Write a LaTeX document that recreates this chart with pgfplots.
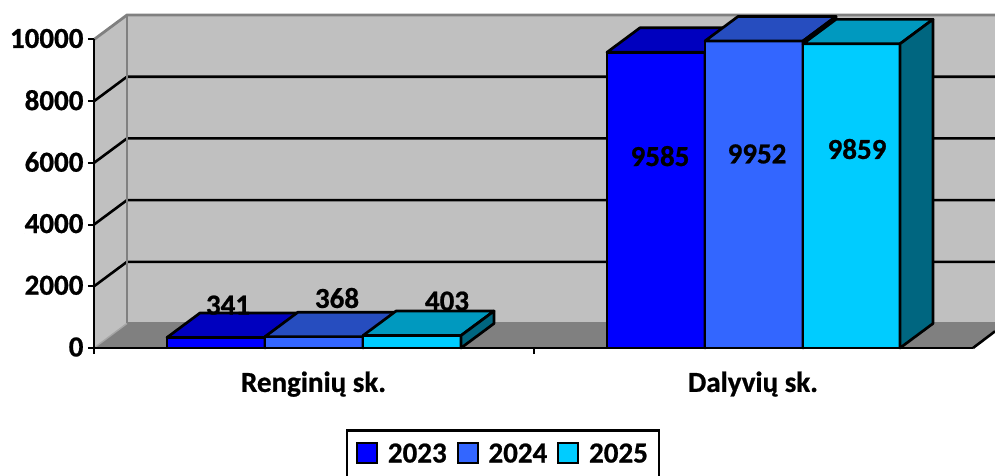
\documentclass[border=0pt]{standalone}
\usepackage{fontspec}
\setmainfont{Carlito}[BoldFeatures={FakeBold=0.8}]
\usepackage{pgfplots}
\pgfplotsset{compat=1.18}
\definecolor{wallc}{HTML}{C0C0C0}
\definecolor{floorc}{HTML}{808080}
\definecolor{aF}{HTML}{0000FF}
\definecolor{aT}{HTML}{0000BF}
\definecolor{aS}{HTML}{000099}
\definecolor{bF}{HTML}{3366FF}
\definecolor{bT}{HTML}{264DBF}
\definecolor{bS}{HTML}{1F3D99}
\definecolor{cF}{HTML}{00CCFF}
\definecolor{cT}{HTML}{0099BF}
\definecolor{cS}{HTML}{006680}
\tikzset{bigfont/.style={font=\fontsize{29}{30}\selectfont\bfseries}}
\pgfplotsset{
  face/.style={fill=#1,draw=black,line width=2.7pt,line join=round,forget plot},
}
\begin{document}
\begin{tikzpicture}
% one x unit is one pixel of the reference, depth is 33 x units and 794 y units
\path[use as bounding box] (-94pt,-128pt) rectangle (901pt,348pt);
\begin{axis}[
  scale only axis,
  width=879pt,height=308.5pt,
  xmin=94,xmax=973,ymin=0,ymax=10000,
  clip=false,
  axis on top,
  axis x line*=bottom,axis y line*=left,
  axis line style={line width=2.7pt,black},
  tick style={line width=2pt,black},
  major tick length=6pt,
  xtick={94,533.5},xticklabels={},
  ytick={0,2000,4000,6000,8000,10000},
  tick align=outside,
  scaled ticks=false,
  /pgf/number format/1000 sep={},
  /pgf/number format/assume math mode=true,
  tick label style={bigfont},
  yticklabel style={xshift=-1pt,yshift=1pt},
  extra x ticks={313.5,753},
  extra x tick labels={Renginių sk.,Dalyvių sk.},
  extra x tick style={major tick length=0pt,tick label style={yshift=-20pt}},
  legend columns=3,
  legend style={at={(rel axis cs:0.4653,-0.263)},anchor=north,draw=black,line width=2.7pt,
    bigfont,inner xsep=9pt,inner ysep=11pt,
    /tikz/every even column/.style={column sep=8pt},
    /tikz/every odd column/.style={column sep=8pt}},
  legend image code/.code={\draw[#1,line width=1.8pt] (0pt,-9pt) rectangle (20pt,11pt);},
]
% walls and floor
\addplot[fill=wallc,draw=none,forget plot] coordinates {(127,794) (995,794) (995,10794) (127,10794)} --cycle;
\addplot[fill=wallc,draw=none,forget plot] coordinates {(94,0) (127,794) (127,10794) (94,10000)} --cycle;
\addplot[fill=floorc,draw=none,forget plot] coordinates {(94,0) (973,0) (995,540) (995,794) (127,794)} --cycle;
% gridlines
\addplot[black,line width=2.6pt,forget plot] coordinates {(94,2000) (127,2794) (995,2794)};
\addplot[black,line width=2.6pt,forget plot] coordinates {(94,4000) (127,4794) (995,4794)};
\addplot[black,line width=2.6pt,forget plot] coordinates {(94,6000) (127,6794) (995,6794)};
\addplot[black,line width=2.6pt,forget plot] coordinates {(94,8000) (127,8794) (995,8794)};
% wall edges
\addplot[floorc,line width=2.8pt,forget plot] coordinates {(94,10000) (127,10794) (995,10794)};
\addplot[floorc,line width=2.8pt,forget plot] coordinates {(127,10794) (127,794) (995,794)};
\addplot[floorc!70!white,line width=1.4pt,forget plot] coordinates {(94,0) (127,794)};
\addplot[black,line width=2.6pt,forget plot] coordinates {(973,0) (995,540)};
% low labels sit behind the bars
\addplot[draw=none,forget plot,point meta=explicit symbolic,nodes near coords,
  nodes near coords align={anchor=center},
  every node near coord/.append style={bigfont,inner sep=0pt,black}]
  coordinates {(228,1390)[341] (337,1620)[368] (447,1520)[403]};
% Renginiu sk. 2023
\addplot[face=aF] coordinates {(167,0) (265,0) (265,341) (167,341)} --cycle;
\addplot[face=aT] coordinates {(167,341) (265,341) (298,1135) (200,1135)} --cycle;
\addplot[face=aS] coordinates {(265,0) (298,794) (298,1135) (265,341)} --cycle;
% 2024
\addplot[face=bF] coordinates {(265,0) (363,0) (363,368) (265,368)} --cycle;
\addplot[face=bT] coordinates {(265,368) (363,368) (396,1162) (298,1162)} --cycle;
\addplot[face=bS] coordinates {(363,0) (396,794) (396,1162) (363,368)} --cycle;
% 2025
\addplot[face=cF] coordinates {(363,0) (461,0) (461,403) (363,403)} --cycle;
\addplot[face=cT] coordinates {(363,403) (461,403) (494,1197) (396,1197)} --cycle;
\addplot[face=cS] coordinates {(461,0) (494,794) (494,1197) (461,403)} --cycle;
% Dalyviu sk. 2023
\addplot[face=aF] coordinates {(607,0) (705,0) (705,9585) (607,9585)} --cycle;
\addplot[face=aT] coordinates {(607,9585) (705,9585) (738,10379) (640,10379)} --cycle;
\addplot[face=aS] coordinates {(705,0) (738,794) (738,10379) (705,9585)} --cycle;
% 2024
\addplot[face=bF] coordinates {(705,0) (803,0) (803,9952) (705,9952)} --cycle;
\addplot[face=bT] coordinates {(705,9952) (803,9952) (836,10746) (738,10746)} --cycle;
\addplot[face=bS] coordinates {(803,0) (836,794) (836,10746) (803,9952)} --cycle;
% 2025
\addplot[face=cF] coordinates {(803,0) (900,0) (900,9859) (803,9859)} --cycle;
\addplot[face=cT] coordinates {(803,9859) (900,9859) (933,10653) (836,10653)} --cycle;
\addplot[face=cS] coordinates {(900,0) (933,794) (933,10653) (900,9859)} --cycle;
% labels on the tall bars
\addplot[draw=none,forget plot,point meta=explicit symbolic,nodes near coords,
  nodes near coords align={anchor=center},
  every node near coord/.append style={bigfont,inner sep=0pt,black}]
  coordinates {(660,6220)[9585] (757,6290)[9952] (857,6450)[9859]};
\addlegendimage{fill=aF,draw=black}
\addlegendentry{2023}
\addlegendimage{fill=bF,draw=black}
\addlegendentry{2024}
\addlegendimage{fill=cF,draw=black}
\addlegendentry{2025\hspace{6pt}}
\end{axis}
\end{tikzpicture}
\end{document}
